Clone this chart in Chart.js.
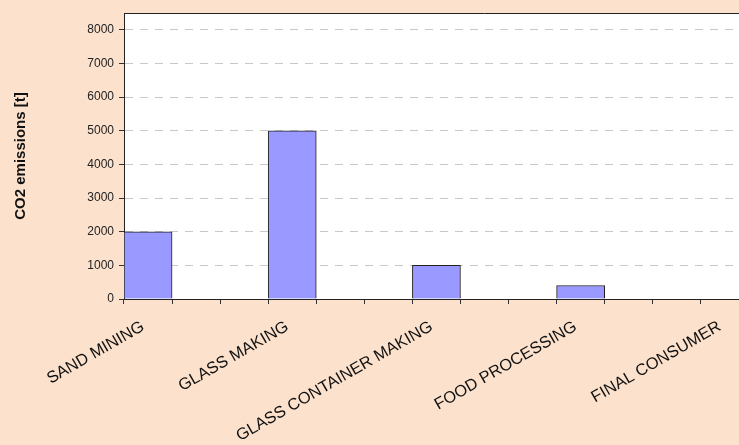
<!DOCTYPE html>
<html>
<head>
<meta charset="utf-8">
<script src="https://cdn.jsdelivr.net/npm/chart.js@4/dist/chart.umd.min.js"></script>
<style>
  html, body { margin:0; padding:0; background:#fce2cd; overflow:hidden; }
  #wrap { width:739px; height:445px; overflow:hidden; }
  #box { width:860px; height:445px; position:relative; }
</style>
</head>
<body>
<div id="wrap"><div id="box"><canvas id="ch-co2"></canvas></div></div>
<script>
// Chain stages and their emissions
const stages = ['SAND MINING', 'GLASS MAKING', 'GLASS CONTAINER MAKING', 'FOOD PROCESSING', 'FINAL CONSUMER'];
const emissions = [2000, 5000, 1000, 400, 0];
const yTicks = [0, 1000, 2000, 3000, 4000, 5000, 6000, 7000, 8000];
const yMax = 8500;
const slotsPerStage = 3; // each stage takes one bar slot + two empty ones

// Expand to slots for the category axis
const labels = [], values = [];
stages.forEach((s, i) => {
  labels.push(s); values.push(emissions[i]);
  for (let k = 1; k < slotsPerStage; k++) { labels.push(''); values.push(null); }
});

const FONT = 'Arial, "Liberation Sans", sans-serif';

const plotFrame = {
  id: 'plotFrame',
  beforeDraw(c) {
    const a = c.chartArea, x = c.ctx;
    x.save();
    x.fillStyle = '#ffffff';
    x.fillRect(a.left, a.top, a.right - a.left, a.bottom - a.top);
    x.restore();
  },
  afterDraw(c) {
    const a = c.chartArea, x = c.ctx;
    x.save();
    x.strokeStyle = '#222';
    x.lineWidth = 1;
    x.beginPath();
    x.moveTo(a.left, a.top + 0.5);
    x.lineTo(a.right, a.top + 0.5);
    x.stroke();
    x.restore();
  }
};

new Chart(document.getElementById('ch-co2'), {
  type: 'bar',
  data: {
    labels,
    datasets: [{
      data: values,
      backgroundColor: '#9999ff',
      borderColor: '#222',
      borderWidth: 1,
      barPercentage: 1,
      categoryPercentage: 1
    }]
  },
  options: {
    responsive: true,
    maintainAspectRatio: false,
    animation: false,
    layout: { padding: { top: 13, right: 15, left: 0, bottom: 0 } },
    plugins: { legend: { display: false }, tooltip: { enabled: false } },
    scales: {
      x: {
        grid: { display: true, drawOnChartArea: false, drawTicks: true, tickLength: 5, color: '#333', offset: true },
        border: { color: '#222', width: 1 },
        ticks: {
          autoSkip: false, maxRotation: 30, minRotation: 30, labelOffset: -5,
          color: '#111', font: { family: FONT, size: 16.4 }, padding: 13
        },
        afterFit: s => { s.height = 146; }
      },
      y: {
        min: 0, max: yMax,
        afterBuildTicks: s => { s.ticks = yTicks.map(v => ({ value: v })); },
        grid: { color: '#c8c8c8', tickColor: '#333', tickLength: 5, tickBorderDash: [] },
        border: { color: '#222', width: 1, dash: [8, 7] },
        ticks: { color: '#222', font: { family: FONT, size: 12 }, padding: 5, callback: v => String(v) },
        title: {
          display: true, text: 'CO2 emissions [t]', color: '#111',
          font: { family: FONT, size: 15, weight: 'bold' }, padding: { top: 12, bottom: 8 }
        },
        afterFit: s => { s.width = 124; }
      }
    }
  },
  plugins: [plotFrame]
});
</script>
</body>
</html>
